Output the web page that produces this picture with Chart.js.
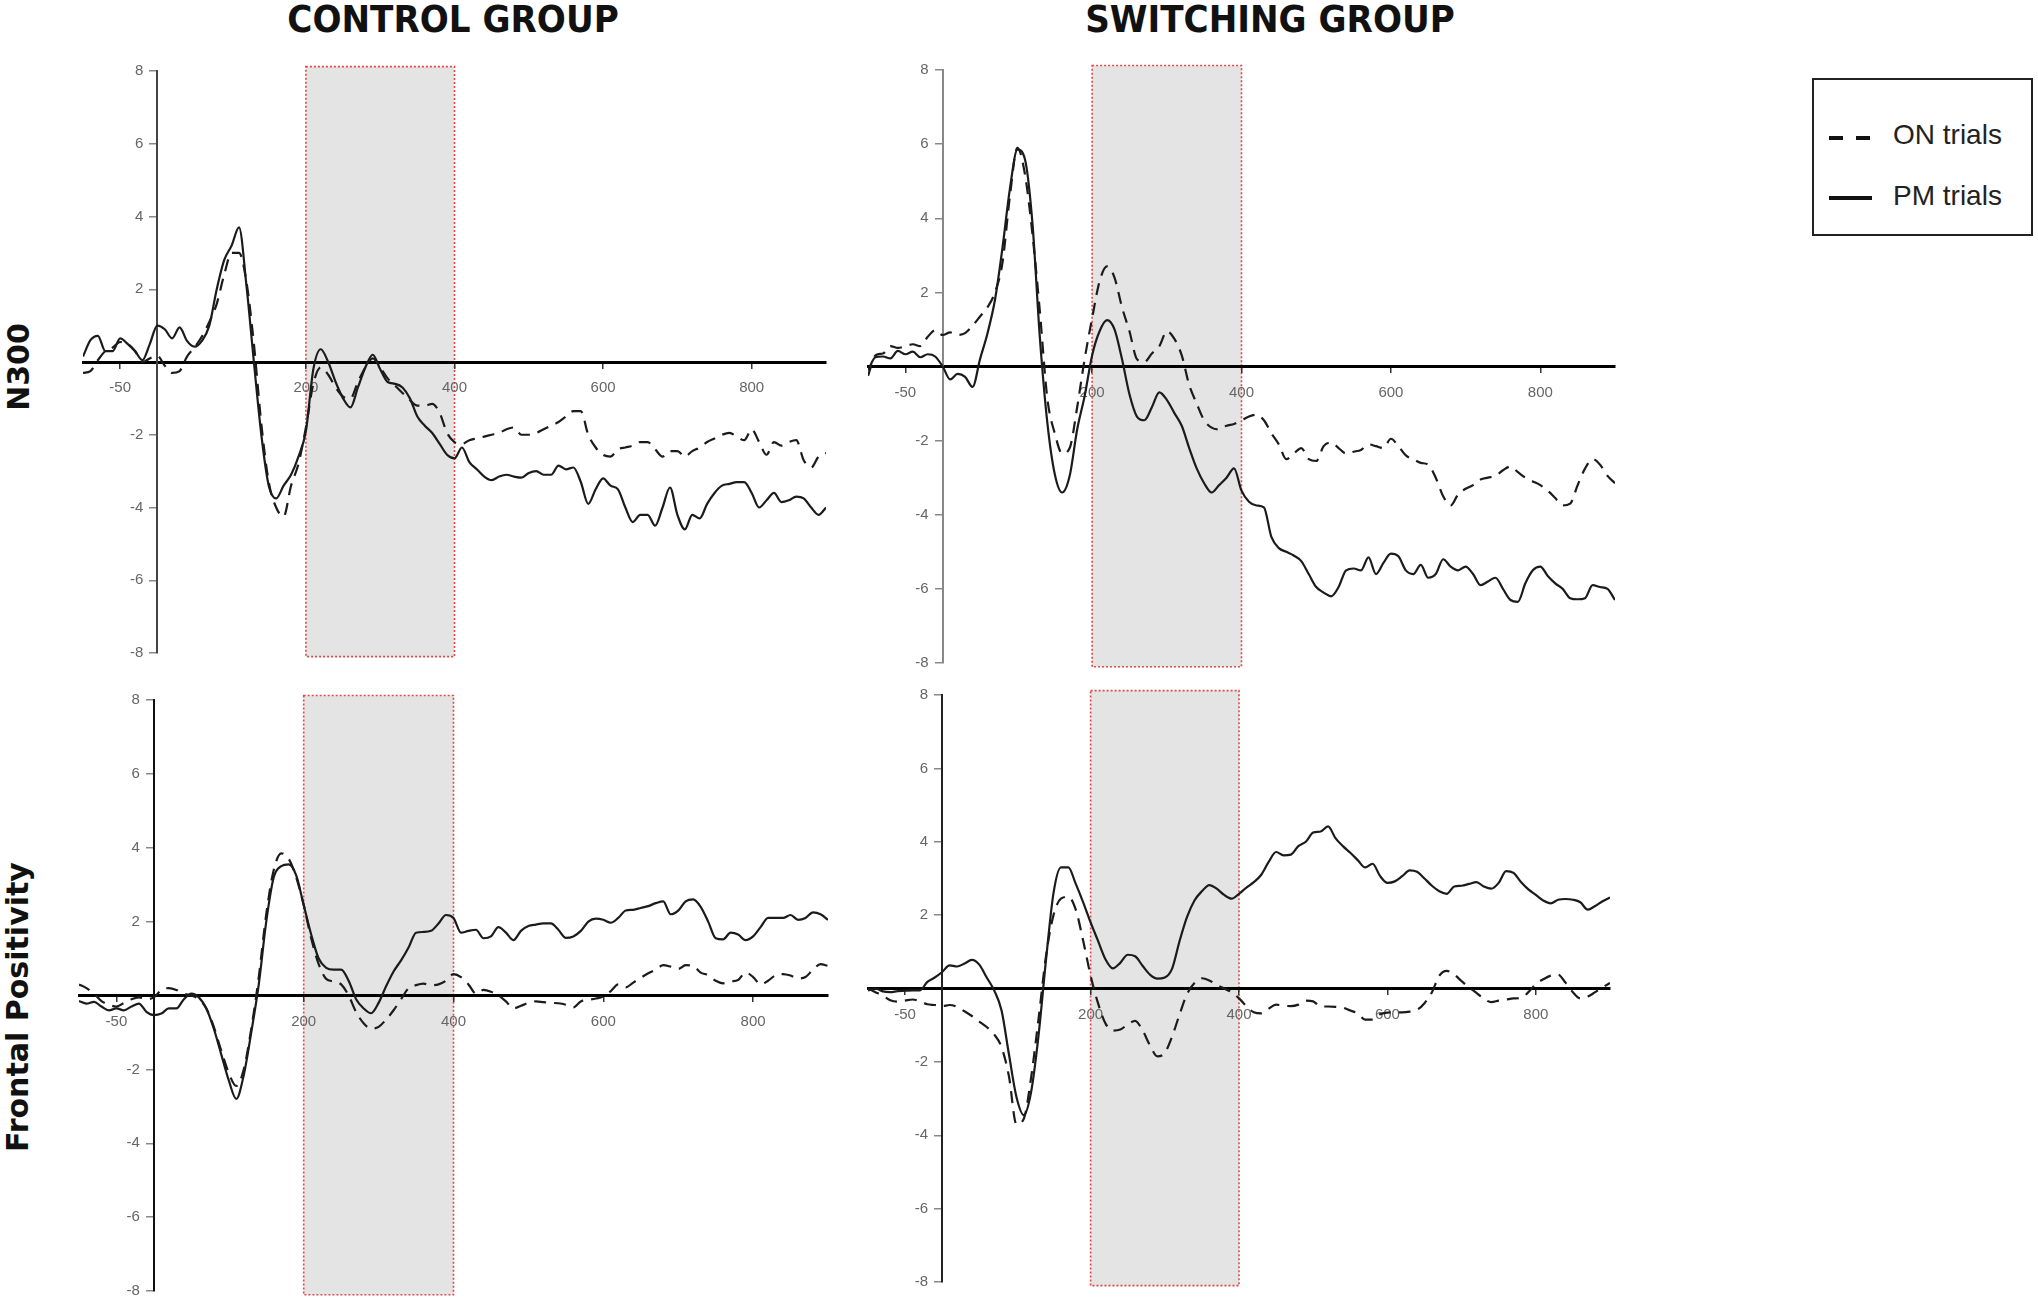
<!DOCTYPE html>
<html>
<head>
<meta charset="utf-8">
<title>N300 and Frontal Positivity - control vs switching group</title>
<script src="https://cdn.jsdelivr.net/npm/chart.js@4.4.1/dist/chart.umd.min.js"></script>
<style>
  html, body { margin: 0; padding: 0; background: #fff; }
  body { position: relative; width: 2038px; height: 1302px; overflow: hidden; font-family: "Liberation Sans", Arial, sans-serif; }
  .panel { position: absolute; }
  .group-title { position: absolute; top: 0; transform: translateX(-50%); white-space: nowrap;
    font-family: "DejaVu Sans Condensed", "DejaVu Sans", sans-serif; font-stretch: condensed;
    font-weight: bold; font-size: 38px; line-height: 38px; color: #111; }
  .row-label { position: absolute; white-space: nowrap; transform: translate(-50%, -50%) rotate(-90deg);
    font-family: "DejaVu Sans", sans-serif; font-weight: bold; font-size: 30px; line-height: 32px; color: #111; }
  .legend-box { position: absolute; left: 1812px; top: 78px; width: 221px; height: 158px; box-sizing: border-box; border: 2px solid #222; }
  .legend-mark { position: absolute; height: 4px; background: #111; }
  .legend-text { position: absolute; left: 1893px; font-size: 28px; line-height: 30px; color: #222; white-space: nowrap; }
</style>
</head>
<body>

<div class="group-title" style="left:453px">CONTROL GROUP</div>
<div class="group-title" style="left:1270px">SWITCHING GROUP</div>
<div class="row-label" style="left:19px; top:367px">N300</div>
<div class="row-label" style="left:18px; top:1007px">Frontal Positivity</div>

<div class="panel" id="controlN300"></div>
<div class="panel" id="switchN300"></div>
<div class="panel" id="controlFp"></div>
<div class="panel" id="switchFp"></div>

<div class="legend-box"></div>
<div class="legend-mark" style="left:1829px; top:136px; width:14px"></div>
<div class="legend-mark" style="left:1856px; top:136px; width:14px"></div>
<div class="legend-text" style="top:120px">ON trials</div>
<div class="legend-mark" style="left:1829px; top:196px; width:43px"></div>
<div class="legend-text" style="top:181px">PM trials</div>

<script>
// time points (ms)
const timesMs = [
  -100, -90, -80, -70, -60, -50, -40, -30, -20, -10,
  0, 10, 20, 30, 40, 50, 60, 70, 80, 90,
  100, 110, 120, 130, 140, 150, 160, 170, 180, 190,
  200, 210, 220, 230, 240, 250, 260, 270, 280, 290,
  300, 310, 320, 330, 340, 350, 360, 370, 380, 390,
  400, 410, 420, 430, 440, 450, 460, 470, 480, 490,
  500, 510, 520, 530, 540, 550, 560, 570, 580, 590,
  600, 610, 620, 630, 640, 650, 660, 670, 680, 690,
  700, 710, 720, 730, 740, 750, 760, 770, 780, 790,
  800, 810, 820, 830, 840, 850, 860, 870, 880, 890,
  900
];

// control group, N300 (µV)
const controlN300On = [
  -0.3, -0.25, 0.05, 0.3, 0.4, 0.55, 0.5, 0.3, 0.0, 0.1,
  0.17, -0.1, -0.3, -0.25, 0.15, 0.4, 0.7, 1.1, 1.6, 2.4,
  3.0, 3.0, 2.2, 0.5, -1.7, -3.3, -4.0, -4.25, -3.4, -2.8,
  -1.8, -0.6, -0.15, -0.35, -0.7, -0.95, -1.0, -0.55, -0.15, 0.1,
  -0.15, -0.45, -0.65, -0.85, -1.05, -1.2, -1.2, -1.15, -1.4, -1.95,
  -2.2, -2.25, -2.15, -2.1, -2.05, -2.0, -1.95, -1.85, -1.8, -2.0,
  -2.0, -1.95, -1.85, -1.75, -1.65, -1.5, -1.35, -1.35, -2.0, -2.35,
  -2.55, -2.6, -2.4, -2.35, -2.3, -2.2, -2.2, -2.4, -2.6, -2.45,
  -2.45, -2.6, -2.45, -2.35, -2.2, -2.1, -2.0, -1.95, -2.05, -2.15,
  -1.85, -2.2, -2.55, -2.2, -2.3, -2.2, -2.15, -2.7, -2.9, -2.6,
  -2.5
];
const controlN300Pm = [
  0.15, 0.6, 0.72, 0.3, 0.3, 0.65, 0.5, 0.3, 0.05, 0.5,
  1.0, 0.9, 0.65, 0.95, 0.58, 0.42, 0.58, 1.0, 2.0, 2.8,
  3.2, 3.7, 2.1, 0.0, -2.0, -3.4, -3.75, -3.4, -3.1, -2.6,
  -1.9, -0.2, 0.35, 0.0, -0.55, -1.0, -1.25, -0.7, -0.15, 0.2,
  -0.2, -0.55, -0.6, -0.7, -1.0, -1.5, -1.75, -1.95, -2.25, -2.55,
  -2.65, -2.35, -2.75, -2.95, -3.15, -3.25, -3.15, -3.1, -3.15, -3.18,
  -3.05, -3.0, -3.1, -3.1, -2.85, -2.95, -2.9, -3.3, -3.9, -3.5,
  -3.2, -3.4, -3.5, -4.0, -4.4, -4.2, -4.2, -4.5, -4.0, -3.45,
  -4.2, -4.6, -4.2, -4.3, -3.9, -3.6, -3.4, -3.35, -3.3, -3.3,
  -3.6, -4.0, -3.8, -3.6, -3.85, -3.8, -3.7, -3.75, -4.0, -4.2,
  -4.0
];

// switching group, N300 (µV)
const switchN300On = [
  -0.25, 0.3, 0.35, 0.55, 0.5, 0.55, 0.6, 0.55, 0.8, 0.98,
  0.85, 0.92, 0.85, 0.9, 1.1, 1.35, 1.6, 2.0, 2.8, 4.6,
  5.9, 5.2, 3.6, 1.5, -0.85, -1.8, -2.35, -2.2, -1.1, 0.2,
  1.3, 2.3, 2.7, 2.4, 1.6, 0.95, 0.2, 0.12, 0.35, 0.55,
  0.95, 0.75, 0.3, -0.5, -1.0, -1.45, -1.65, -1.7, -1.6, -1.55,
  -1.45, -1.35, -1.3, -1.45, -1.8, -2.1, -2.5, -2.35, -2.2, -2.5,
  -2.55, -2.15, -2.05, -2.2, -2.35, -2.3, -2.25, -2.1, -2.15, -2.2,
  -1.95, -2.15, -2.4, -2.5, -2.6, -2.65, -3.0, -3.5, -3.75, -3.45,
  -3.3, -3.2, -3.05, -3.0, -2.95, -2.8, -2.7, -2.85, -3.0, -3.1,
  -3.2, -3.35, -3.55, -3.75, -3.7, -3.2, -2.75, -2.5, -2.65, -2.95,
  -3.15
];
const switchN300Pm = [
  -0.1, 0.25, 0.27, 0.22, 0.42, 0.33, 0.4, 0.25, 0.33, 0.27,
  0.0, -0.35, -0.2, -0.28, -0.55, 0.2, 0.9, 1.8, 3.2, 4.8,
  5.85, 5.6, 3.9, 0.8, -1.5, -2.9, -3.4, -2.95, -1.7, -0.8,
  0.3, 0.95, 1.25, 1.0, 0.2, -0.75, -1.35, -1.45, -1.1, -0.7,
  -0.9, -1.25, -1.6, -2.2, -2.75, -3.15, -3.4, -3.2, -3.0, -2.75,
  -3.35, -3.65, -3.75, -3.8, -4.6, -4.9, -5.0, -5.1, -5.25, -5.6,
  -5.95, -6.1, -6.2, -5.95, -5.5, -5.45, -5.5, -5.15, -5.6, -5.3,
  -5.05, -5.12, -5.5, -5.6, -5.35, -5.7, -5.6, -5.2, -5.4, -5.5,
  -5.4, -5.6, -5.9, -5.8, -5.7, -6.0, -6.3, -6.35, -5.85, -5.5,
  -5.4, -5.65, -5.85, -6.0, -6.25, -6.28, -6.25, -5.9, -5.95, -6.0,
  -6.3
];

// control group, frontal positivity (µV)
const controlFpOn = [
  0.3, 0.2, 0.05, -0.15, -0.25, -0.3, -0.2, -0.1, -0.05, -0.1,
  -0.05, 0.15, 0.2, 0.15, 0.05, 0.0, -0.1, -0.35, -0.85, -1.5,
  -2.1, -2.45, -2.0, -0.9, 0.5, 2.2, 3.4, 3.85, 3.7, 3.2,
  2.45, 1.55, 0.85, 0.45, 0.38, 0.3, 0.0, -0.45, -0.75, -0.9,
  -0.85, -0.65, -0.4, -0.1, 0.2, 0.28, 0.32, 0.28, 0.3, 0.4,
  0.58, 0.5, 0.3, 0.05, 0.15, 0.1, 0.0, -0.16, -0.35, -0.28,
  -0.2, -0.16, -0.18, -0.2, -0.21, -0.25, -0.32, -0.16, -0.12, -0.08,
  -0.03, 0.12, 0.3, 0.22, 0.35, 0.48, 0.6, 0.7, 0.82, 0.78,
  0.72, 0.82, 0.8, 0.62, 0.55, 0.4, 0.33, 0.38, 0.42, 0.62,
  0.5, 0.3, 0.4, 0.55, 0.58, 0.54, 0.46, 0.5, 0.7, 0.85,
  0.8
];
const controlFpPm = [
  -0.15, -0.22, -0.17, -0.3, -0.4, -0.35, -0.4, -0.3, -0.22, -0.44,
  -0.53, -0.49, -0.35, -0.35, -0.1, 0.05, -0.05, -0.35, -0.9, -1.6,
  -2.3, -2.8, -2.15, -1.0, 0.3, 2.0, 3.2, 3.5, 3.55, 3.25,
  2.45, 1.65, 1.0, 0.75, 0.7, 0.7, 0.4, -0.1, -0.35, -0.48,
  -0.2, 0.25, 0.65, 0.95, 1.3, 1.7, 1.72, 1.75, 1.95, 2.18,
  2.1, 1.7, 1.75, 1.78, 1.55, 1.6, 1.85, 1.7, 1.5, 1.75,
  1.88, 1.92, 1.95, 1.95, 1.78, 1.56, 1.6, 1.75, 2.0, 2.08,
  2.05, 1.97, 2.1, 2.3, 2.32, 2.37, 2.42, 2.5, 2.55, 2.2,
  2.3, 2.55, 2.6, 2.4, 2.0, 1.55, 1.52, 1.7, 1.65, 1.5,
  1.6, 1.85, 2.1, 2.1, 2.1, 2.18, 2.05, 2.1, 2.25, 2.2,
  2.05
];

// switching group, frontal positivity (µV)
const switchFpOn = [
  0.0, -0.1, -0.2, -0.32, -0.36, -0.33, -0.3, -0.35, -0.43, -0.45,
  -0.48, -0.45, -0.5, -0.62, -0.75, -0.9, -1.05, -1.25, -1.6, -2.4,
  -3.7, -3.55, -2.4, -0.8, 0.9, 2.0, 2.45, 2.5, 2.15, 1.3,
  0.35, -0.4, -0.95, -1.15, -1.12, -0.98, -0.88, -1.14, -1.55, -1.85,
  -1.75, -1.3, -0.7, -0.15, 0.15, 0.28, 0.22, 0.1, 0.0, -0.1,
  -0.27, -0.48, -0.65, -0.68, -0.55, -0.44, -0.47, -0.48, -0.44, -0.33,
  -0.35, -0.49, -0.49, -0.5, -0.52, -0.6, -0.68, -0.85, -0.85, -0.7,
  -0.66, -0.65, -0.65, -0.63, -0.58, -0.4, -0.1, 0.35, 0.48, 0.38,
  0.2, 0.03, -0.12, -0.28, -0.37, -0.33, -0.3, -0.27, -0.26, -0.1,
  0.12, 0.25, 0.35, 0.38, 0.16, -0.1, -0.27, -0.22, -0.1, 0.03,
  0.15
];
const switchFpPm = [
  -0.05, 0.0, -0.08, -0.1, -0.07, -0.06, -0.05, -0.05, 0.18, 0.3,
  0.45, 0.63, 0.6, 0.68, 0.78, 0.65, 0.3, -0.05, -0.6, -1.8,
  -2.95, -3.45, -2.8, -1.25, 0.8, 2.6, 3.3, 3.3, 2.85, 2.35,
  1.8, 1.3, 0.8, 0.55, 0.7, 0.92, 0.88, 0.62, 0.38, 0.27,
  0.3, 0.55, 1.3, 1.95, 2.4, 2.65, 2.82, 2.72, 2.55, 2.45,
  2.58, 2.75, 2.9, 3.1, 3.45, 3.72, 3.63, 3.65, 3.88, 4.0,
  4.25, 4.28, 4.42, 4.1, 3.88, 3.7, 3.5, 3.3, 3.4, 3.07,
  2.88, 2.92, 3.06, 3.22, 3.18, 3.0, 2.8, 2.65, 2.58, 2.78,
  2.8, 2.85, 2.9, 2.78, 2.72, 2.88, 3.2, 3.15, 2.9, 2.7,
  2.55, 2.4, 2.32, 2.42, 2.44, 2.42, 2.35, 2.15, 2.25, 2.38,
  2.48
];

const xTickValues = [-50, 200, 400, 600, 800];
const yTickValues = [8, 6, 4, 2, -2, -4, -6, -8];
const analysisWindowMs = [200, 400];

// drawing constants
const PAD = 24;
const LINE_COLOR = '#1b1b1b';
const BOX_TOP = 8.12;
const BOX_BOTTOM = -8.1;
const TICK_FONT = '15px "Liberation Sans", Arial, sans-serif';

const toPoints = values => timesMs.map((t, i) => ({ x: t, y: values[i] }));

// grey analysis window with red dotted outline, drawn under axes and lines
const windowBoxPlugin = {
  id: 'windowBox',
  beforeDraw(chart) {
    const { ctx, scales: { x, y } } = chart;
    const left = x.getPixelForValue(analysisWindowMs[0]);
    const right = x.getPixelForValue(analysisWindowMs[1]);
    const top = y.getPixelForValue(BOX_TOP);
    const bottom = y.getPixelForValue(BOX_BOTTOM);
    ctx.save();
    ctx.fillStyle = '#e4e4e4';
    ctx.fillRect(left, top, right - left, bottom - top);
    ctx.strokeStyle = '#e04848';
    ctx.lineWidth = 1.6;
    ctx.setLineDash([2, 2]);
    ctx.strokeRect(left, top, right - left, bottom - top);
    ctx.restore();
  }
};

// y labels sit left of the axis at x = 0 (chart.js puts them on the line itself)
const yLabelPlugin = {
  id: 'yLabels',
  afterDraw(chart) {
    const { ctx, scales: { x, y } } = chart;
    const axisX = x.getPixelForValue(0);
    ctx.save();
    ctx.font = TICK_FONT;
    ctx.fillStyle = '#666';
    ctx.textAlign = 'right';
    ctx.textBaseline = 'middle';
    yTickValues.forEach(v => ctx.fillText(String(v), axisX - 14, y.getPixelForValue(v)));
    ctx.restore();
  }
};

function makePanel(id, onValues, pmValues, area, yAxisColor) {
  const holder = document.getElementById(id);
  holder.style.left = (area.left - PAD) + 'px';
  holder.style.top = (area.top - PAD) + 'px';
  holder.style.width = (area.right - area.left + 2 * PAD) + 'px';
  holder.style.height = (area.bottom - area.top + 2 * PAD) + 'px';
  const canvas = document.createElement('canvas');
  holder.appendChild(canvas);

  return new Chart(canvas, {
    type: 'line',
    data: {
      datasets: [
        {
          label: 'ON trials',
          data: toPoints(onValues),
          borderColor: LINE_COLOR,
          borderWidth: 2.2,
          borderDash: [12, 8],
          pointRadius: 0,
          cubicInterpolationMode: 'monotone',
          fill: false
        },
        {
          label: 'PM trials',
          data: toPoints(pmValues),
          borderColor: LINE_COLOR,
          borderWidth: 2.2,
          pointRadius: 0,
          cubicInterpolationMode: 'monotone',
          fill: false
        }
      ]
    },
    options: {
      responsive: true,
      maintainAspectRatio: false,
      animation: false,
      events: [],
      layout: { padding: PAD },
      plugins: {
        legend: { display: false },
        tooltip: { enabled: false }
      },
      scales: {
        x: {
          type: 'linear',
          min: -100,
          max: 900,
          position: { y: 0 },
          afterBuildTicks: axis => { axis.ticks = xTickValues.map(v => ({ value: v })); },
          ticks: {
            autoSkip: false,
            maxRotation: 0,
            padding: 12,
            color: '#666',
            font: { family: 'Liberation Sans', size: 15 }
          },
          grid: { drawOnChartArea: false, tickLength: 5, color: '#333', lineWidth: 1.5 },
          border: { color: '#000', width: 3 }
        },
        y: {
          type: 'linear',
          min: -8,
          max: 8,
          position: { x: 0 },
          afterBuildTicks: axis => { axis.ticks = yTickValues.map(v => ({ value: v })); },
          ticks: { callback: () => '' },
          grid: { drawOnChartArea: false, tickLength: 7, color: '#888', lineWidth: 1.5 },
          border: { color: yAxisColor, width: 2 }
        }
      }
    },
    plugins: [windowBoxPlugin, yLabelPlugin]
  });
}

makePanel('controlN300', controlN300On, controlN300Pm, { left: 83, right: 826, top: 71, bottom: 653 }, '#444');
makePanel('switchN300', switchN300On, switchN300Pm, { left: 868, right: 1615, top: 70, bottom: 663 }, '#888');
makePanel('controlFp', controlFpOn, controlFpPm, { left: 79, right: 828, top: 700, bottom: 1291 }, '#111');
makePanel('switchFp', switchFpOn, switchFpPm, { left: 868, right: 1610, top: 695, bottom: 1282 }, '#222');
</script>
</body>
</html>
